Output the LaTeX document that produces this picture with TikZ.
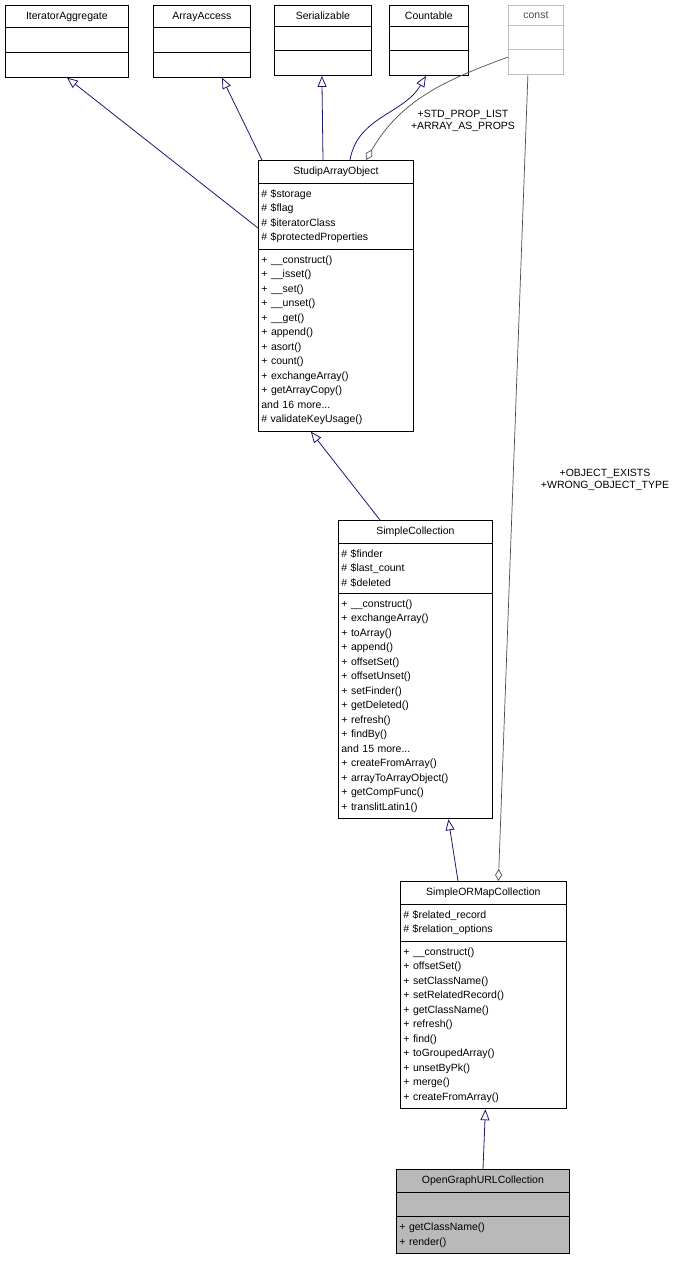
\documentclass[tikz,border=0pt]{standalone}
\usepackage{fontspec}
\setmainfont{Liberation Sans}
\usetikzlibrary{shapes.multipart,arrows.meta,positioning}
\definecolor{edgeblue}{RGB}{25,25,112}
\newcommand{\ctitle}[1]{\null\hfill#1\hfill\null}
\newcommand{\emptypart}{\rule{0pt}{12pt}}
\tikzset{
  umlclass/.style={draw, rectangle split, rectangle split parts=3, anchor=north west,
    align=left, font=\fontsize{10.5}{14.5}\selectfont, inner xsep=3pt, inner ysep=6pt, line width=0.8pt},
  inherit/.style={edgeblue, line width=0.8pt, -{Triangle[open, length=11pt, width=9pt]}},
  usage/.style={gray!60!black, line width=0.7pt, -{Diamond[open, length=12pt, width=7pt]}},
  edgelabel/.style={font=\fontsize{10.5}{11.5}\selectfont, align=center}
}
\begin{document}
\begin{tikzpicture}[x=1pt, y=-1pt]
\useasboundingbox (0,0) rectangle (695,1267);
% top interfaces
\node[umlclass, text width=117pt] (iteragg) at (5,5) {\ctitle{IteratorAggregate}\nodepart{two}\emptypart\nodepart{three}\emptypart};
\node[umlclass, text width=91pt] (arracc) at (153,5) {\ctitle{ArrayAccess}\nodepart{two}\emptypart\nodepart{three}\emptypart};
\node[umlclass, text width=91pt] (serial) at (274,5) {\ctitle{Serializable}\nodepart{two}\emptypart\nodepart{three}\emptypart};
\node[umlclass, text width=73pt] (countable) at (389,5) {\ctitle{Countable}\nodepart{two}\emptypart\nodepart{three}\emptypart};
\node[umlclass, text width=49pt, draw=gray!50, text=gray!60!black] (const) at (508,5) {\ctitle{const}\nodepart{two}\emptypart\nodepart{three}\emptypart};
% StudipArrayObject
\node[umlclass, text width=149pt] (studip) at (258,160) {\ctitle{StudipArrayObject}
\nodepart{two}\# \$storage\\\# \$flag\\\# \$iteratorClass\\\# \$protectedProperties
\nodepart{three}+ \_\_construct()\\+ \_\_isset()\\+ \_\_set()\\+ \_\_unset()\\+ \_\_get()\\+ append()\\+ asort()\\+ count()\\+ exchangeArray()\\+ getArrayCopy()\\and 16 more...\\\# validateKeyUsage()};
% SimpleCollection
\node[umlclass, text width=148pt] (simplecoll) at (338,520) {\ctitle{SimpleCollection}
\nodepart{two}\# \$finder\\\# \$last\_count\\\# \$deleted
\nodepart{three}+ \_\_construct()\\+ exchangeArray()\\+ toArray()\\+ append()\\+ offsetSet()\\+ offsetUnset()\\+ setFinder()\\+ getDeleted()\\+ refresh()\\+ findBy()\\and 15 more...\\+ createFromArray()\\+ arrayToArrayObject()\\+ getCompFunc()\\+ translitLatin1()};
% SimpleORMapCollection
\node[umlclass, text width=160pt] (ormcoll) at (400,881) {\ctitle{SimpleORMapCollection}
\nodepart{two}\# \$related\_record\\\# \$relation\_options
\nodepart{three}+ \_\_construct()\\+ offsetSet()\\+ setClassName()\\+ setRelatedRecord()\\+ getClassName()\\+ refresh()\\+ find()\\+ toGroupedArray()\\+ unsetByPk()\\+ merge()\\+ createFromArray()};
% OpenGraphURLCollection
\node[umlclass, text width=167pt, fill=gray!55] (ogurl) at (396,1169) {\ctitle{OpenGraphURLCollection}
\nodepart{two}\emptypart
\nodepart{three}+ getClassName()\\+ render()};
% inheritance
\draw[inherit] (studip.west |- 0,228) -- (iteragg.south);
\draw[inherit] ([xshift=4pt]studip.north west) -- ([xshift=20pt]arracc.south);
\draw[inherit] ([xshift=65pt]studip.north west) -- ([xshift=-1pt]serial.south);
\draw[inherit] ([xshift=92pt]studip.north west) to[out=80, in=-120] ([xshift=-3pt]countable.south);
\draw[inherit] ([xshift=42pt]simplecoll.north west) -- ([xshift=-25pt]studip.south);
\draw[inherit] ([xshift=58pt]ormcoll.north west) -- ([xshift=33pt]simplecoll.south);
\draw[inherit] ([xshift=87pt]ogurl.north west) -- ([xshift=2pt]ormcoll.south);
% usage
\draw[usage] ([yshift=18pt]const.south west) to[out=-160, in=60] ([xshift=108pt]studip.north west);
\node[edgelabel] (proplbl) at (463,121) {+STD\_PROP\_LIST\\+ARRAY\_AS\_PROPS};
\draw[usage] ([xshift=-8pt]const.south) -- ([xshift=15pt]ormcoll.north);
\node[edgelabel] (objlbl) at (605,480) {+OBJECT\_EXISTS\\+WRONG\_OBJECT\_TYPE};
\end{tikzpicture}
\end{document}
